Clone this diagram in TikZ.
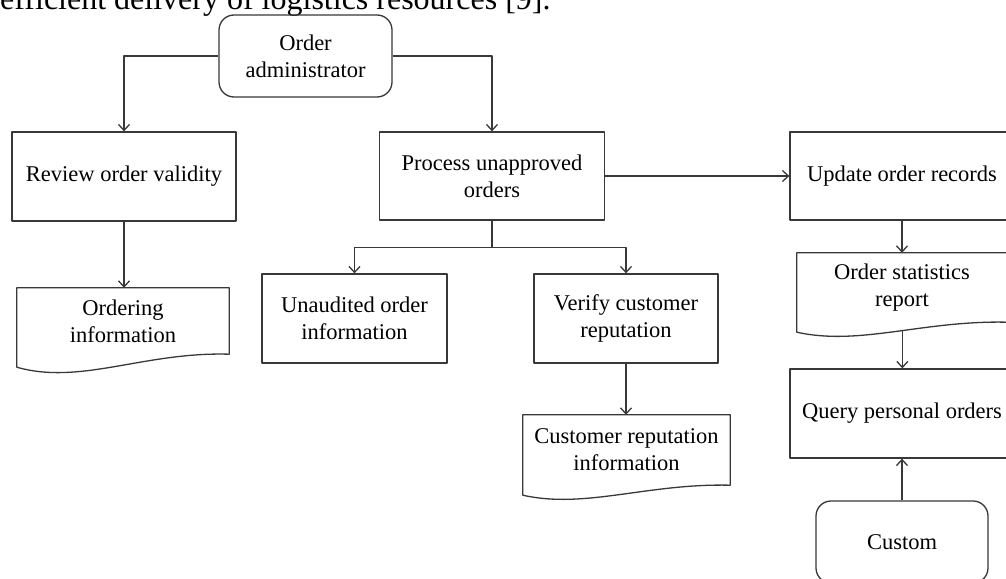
\documentclass[tikz,border=0pt]{standalone}
\usepackage{fontspec}
\setmainfont{Liberation Serif}
\usetikzlibrary{arrows.meta,calc}
\newcommand\diagfont{\fontsize{22.5}{27}\selectfont}
\newcommand\docshape[2]{%
  \draw[line] ($(#1.south west)+(0,#2)$)
    .. controls ($(#1.south west)!0.3!(#1.south east)+(0,2.4*#2)$) and ($(#1.south west)!0.6!(#1.south east)+(0,-0.2*#2)$) .. (#1.south east)
    coordinate[pos=0.54] (#1-b)
    -- (#1.north east) -- (#1.north west) -- cycle;}
\begin{document}
\begin{tikzpicture}[x=1pt,y=-1pt,
  line/.style={draw=black!78, line width=1.3pt, line join=round},
  arr/.style={line, -{Straight Barb[length=6pt,width=11pt]}},
  box/.style={line, rectangle, minimum width=224pt, minimum height=88pt, align=center, font=\diagfont, inner sep=0pt},
  rbox/.style={box, rounded corners=15pt},
  docbox/.style={rectangle, inner sep=0pt, align=center, font=\diagfont},
]
\useasboundingbox (0,0) rectangle (1006,578);
\clip (0,0) rectangle (1006,578);

\node[anchor=base west, inner sep=0pt, font=\fontsize{32}{38}\selectfont] (toptext) at (0,9.5) {efficient delivery of logistics resources [9].};

\node[rbox, minimum width=173pt, minimum height=82pt] (admin) at (305.5,56) {Order\\administrator};
\node[box, minimum width=224pt, minimum height=89pt] (review) at (124,176.5) {Review order validity};
\node[box, minimum width=225pt, minimum height=88pt] (process) at (492,176) {Process unapproved\\orders};
\node[box, minimum width=224pt, minimum height=88pt] (update) at (902,176) {Update order records};
\node[box, minimum width=185pt, minimum height=89pt] (unaud) at (354.5,318.5) {Unaudited order\\information};
\node[box, minimum width=184pt, minimum height=89pt] (verify) at (626,318.5) {Verify customer\\reputation};
\node[box, minimum width=224pt, minimum height=89pt] (query) at (902,413.5) {Query personal orders};
\node[rbox, minimum width=172pt, minimum height=82pt] (custom) at (902,542) {Custom};

\node[docbox, minimum width=212pt, minimum height=66pt] (ordering) at (123,321) {Ordering\\information};
\node[docbox, minimum width=210pt, minimum height=69pt] (stats) at (902,287.5) {Order statistics\\report};
\node[docbox, minimum width=207pt, minimum height=70pt] (custrep) at (626.5,450) {Customer reputation\\information};
\docshape{ordering}{13}
\docshape{stats}{10}
\docshape{custrep}{10}

\draw[arr] (admin.west) -| (review.north);
\draw[arr] (admin.east) -| (process.north);
\draw[arr] (review.south) -- (review.south |- ordering.north);
\draw[arr] (process.east) -- (update.west);
\coordinate (split) at ($(process.south)+(0,27)$);
\draw[line] (process.south) -- (split);
\draw[arr] (split) -| (unaud.north);
\draw[arr] (split) -| (verify.north);
\draw[arr] (verify.south) -- (verify.south |- custrep.north);
\draw[arr] (update.south) -- (stats.north);
\draw[arr] (stats-b) -- (stats-b |- query.north);
\draw[arr] (custom.north) -- (query.south);
\end{tikzpicture}
\end{document}
